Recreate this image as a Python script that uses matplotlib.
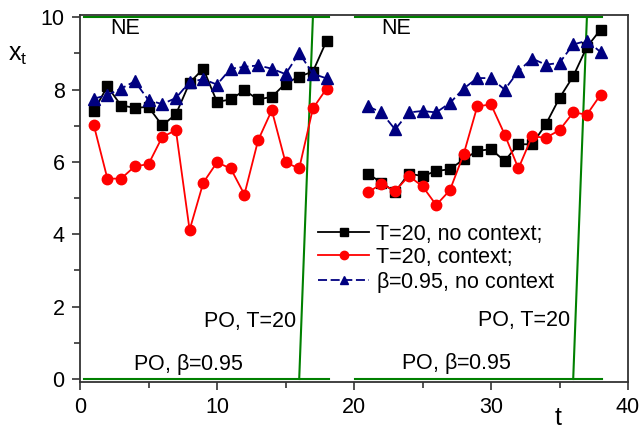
import matplotlib
matplotlib.use("Agg")
import matplotlib.pyplot as plt
import numpy as np

plt.rcParams['font.family'] = ['Liberation Sans', 'DejaVu Sans']
plt.rcParams['mathtext.default'] = 'regular'

# two runs of 18 rounds each, separated by a gap
t_left = np.arange(1, 19)
t_right = np.arange(21, 39)
t_all = [t_left, t_right]

# T=20, no context
no_ctx_left = [7.41, 8.09, 7.56, 7.50, 7.52, 7.01, 7.32, 8.19, 8.58, 7.66,
               7.73, 7.98, 7.73, 7.80, 8.17, 8.36, 8.50, 9.35]
no_ctx_right = [5.68, 5.43, 5.17, 5.68, 5.61, 5.75, 5.80, 6.07, 6.31, 6.35,
                6.03, 6.49, 6.49, 7.04, 7.77, 8.37, 9.18, 9.66]

# T=20, context
ctx_left = [7.03, 5.54, 5.54, 5.88, 5.94, 6.69, 6.88, 4.12, 5.43, 5.99,
            5.82, 5.10, 6.60, 7.43, 5.99, 5.82, 7.48, 8.03]
ctx_right = [5.16, 5.39, 5.20, 5.61, 5.33, 4.81, 5.22, 6.21, 7.54, 7.59,
             6.76, 5.82, 6.71, 6.67, 6.88, 7.37, 7.31, 7.86]

# beta=0.95, no context
beta_left = [7.75, 7.85, 8.03, 8.23, 7.71, 7.60, 7.77, 8.21, 8.29, 8.14,
             8.58, 8.63, 8.67, 8.58, 8.43, 9.01, 8.44, 8.31]
beta_right = [7.54, 7.37, 6.90, 7.37, 7.41, 7.37, 7.63, 8.03, 8.32, 8.32,
              8.00, 8.51, 8.86, 8.69, 8.74, 9.25, 9.35, 9.04]

# theoretical benchmarks
ne_level = 10
po_beta_level = 0
po_T20_x_left = [16, 17]
po_T20_x_right = [36, 37]
po_T20_y = [0, 10]
span_left = [0.3, 18.2]
span_right = [20.1, 38.1]

fig = plt.figure(figsize=(6.43, 4.29), dpi=100)
ax = fig.add_axes([80 / 643, 1 - 382 / 429, 548 / 643, 367 / 429])

green = '#008000'
for span, px in [(span_left, po_T20_x_left), (span_right, po_T20_x_right)]:
    ax.plot(span, [ne_level, ne_level], color=green, lw=1.5)
    ax.plot(span, [po_beta_level, po_beta_level], color=green, lw=1.5)
    ax.plot(px, po_T20_y, color=green, lw=1.5)

series = [
    ([no_ctx_left, no_ctx_right], 'black', 's', '-', 6.5, 'T=20, no context;'),
    ([ctx_left, ctx_right], 'red', 'o', '-', 7.5, 'T=20, context;'),
    ([beta_left, beta_right], '#000080', '^', (0, (5, 2)), 8, r'$\beta$=0.95, no context'),
]
handles = []
for vals, col, mk, ls, ms, lab in series:
    for i, (tt, vv) in enumerate(zip(t_all, vals)):
        ln, = ax.plot(tt, vv, color=col, marker=mk, ls=ls, lw=1.3, ms=ms,
                      label=lab if i == 0 else None)
        if i == 0:
            handles.append(ln)

ax.text(2.2, 9.68, 'NE', fontsize=15.5, va='center')
ax.text(22.0, 9.68, 'NE', fontsize=15.5, va='center')
ax.text(15.8, 1.58, 'PO, T=20', fontsize=15.5, va='center', ha='right')
ax.text(35.8, 1.62, 'PO, T=20', fontsize=15.5, va='center', ha='right')
ax.text(3.9, 0.41, r'PO, $\beta$=0.95', fontsize=15.5, va='center')
ax.text(23.4, 0.43, r'PO, $\beta$=0.95', fontsize=15.5, va='center')

ax.legend(handles=handles, loc='upper left', bbox_to_anchor=(0.418, 0.455),
          frameon=False, fontsize=15.5, handlelength=2.4, handletextpad=0.3,
          labelspacing=0.1, numpoints=1, markerscale=0.8, borderaxespad=0)

ax.set_xlim(0, 40)
ax.set_ylim(-0.083, 10.064)
ax.set_xticks([0, 10, 20, 30, 40])
ax.set_xticks([5, 15, 25, 35], minor=True)
ax.set_yticks([0, 2, 4, 6, 8, 10])
ax.set_yticks([1, 3, 5, 7, 9], minor=True)
ax.tick_params(which='major', length=6, width=1.2, labelsize=15.5, pad=5, color='#333333')
ax.tick_params(which='minor', length=4, width=1.2, color='#333333')
for s in ax.spines.values():
    s.set_linewidth(1.3)
    s.set_color('#333333')

fig.text(8 / 643, 1 - 55 / 429, r'$\mathregular{x_t}$', fontsize=18, va='center')
fig.text(558 / 643, 1 - 418 / 429, 't', fontsize=18, va='center', ha='center')

fig.savefig('out.png', dpi=100)
